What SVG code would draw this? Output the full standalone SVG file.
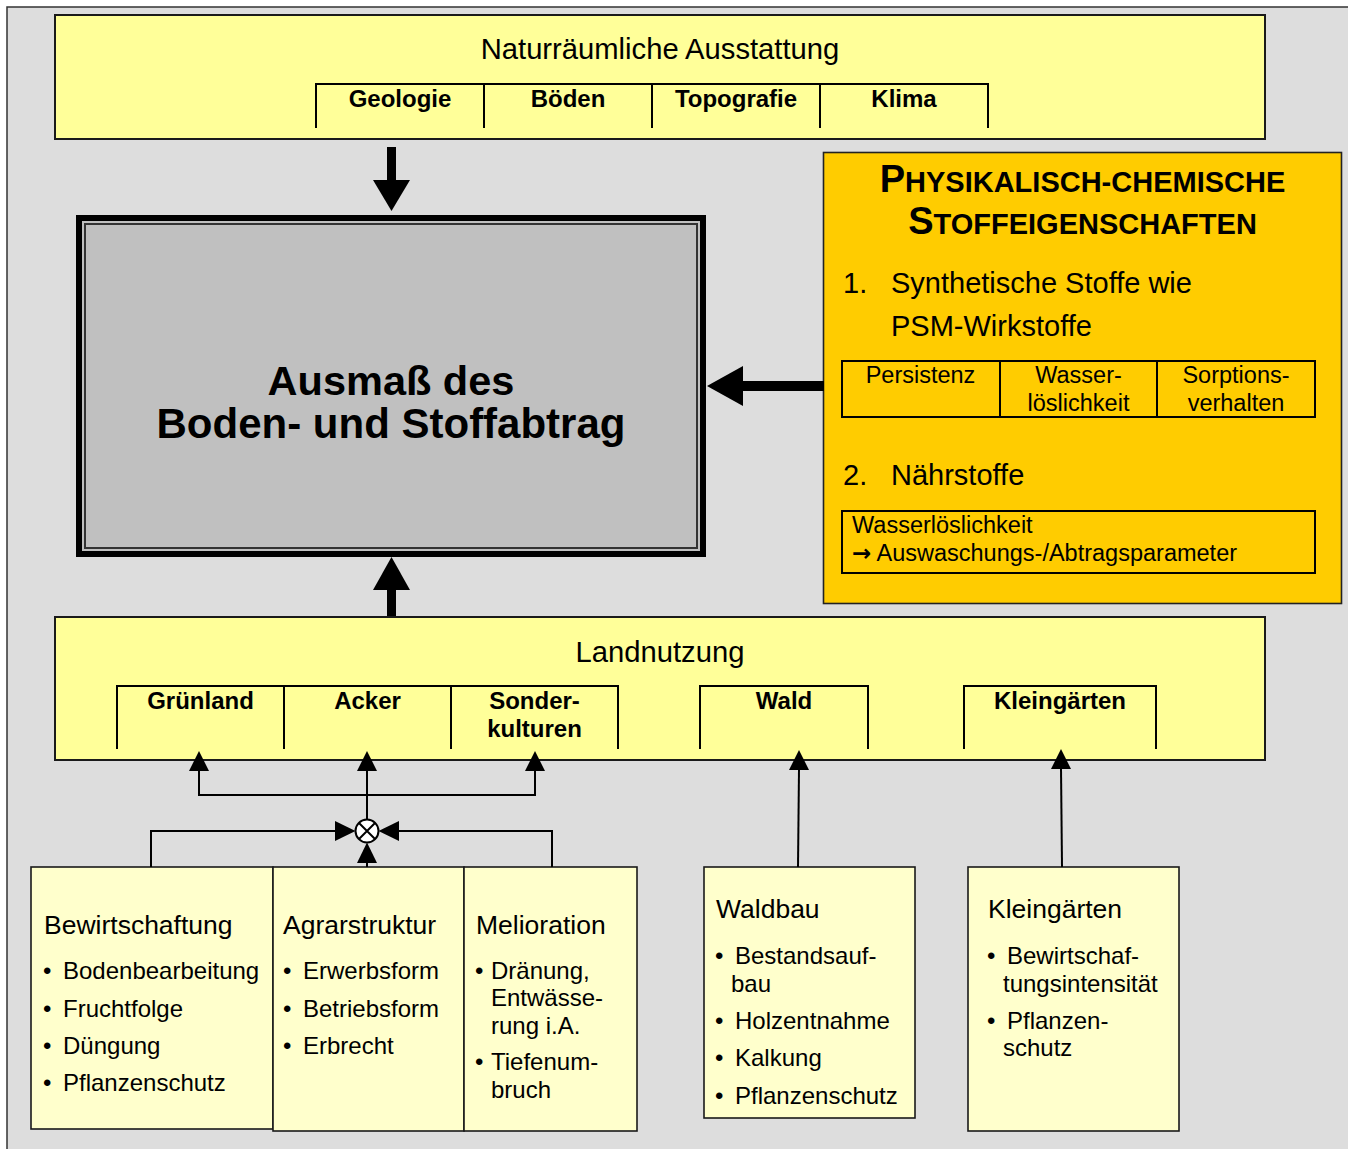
<svg xmlns="http://www.w3.org/2000/svg" width="1348" height="1149" viewBox="0 0 1348 1149">
<defs>
<style>
text{font-family:"Liberation Sans",Arial,sans-serif;fill:#000}
.hdr{font-size:29.2px}
.tab{font-size:24px;font-weight:bold;text-anchor:middle}
.ttl{font-size:26.5px}
.itm{font-size:24px}
.tbl{font-size:23.5px}
.big{font-size:29px}
.yl{fill:#ffff99;stroke:#1a1a1a;stroke-width:2}
.lt{fill:#ffffcc;stroke:#1a1a1a;stroke-width:1.6}
.tl{fill:none;stroke:#000;stroke-width:2}
.ln{fill:none;stroke:#000;stroke-width:2}
.ah{fill:#000}
</style>
</defs>
<rect x="7" y="7" width="1350" height="1150" fill="#dddddd" stroke="#333" stroke-width="1.5"/>

<g id="naturraum">
<rect class="yl" x="55" y="15" width="1210" height="124"/>
<text class="hdr" x="660" y="59" text-anchor="middle">Naturräumliche Ausstattung</text>
<path class="tl" d="M316,128 V84 H988 V128 M484,84 V128 M652,84 V128 M820,84 V128"/>
<text class="tab" x="400" y="107">Geologie</text>
<text class="tab" x="568" y="107">Böden</text>
<text class="tab" x="736" y="107">Topografie</text>
<text class="tab" x="904" y="107">Klima</text>
</g>

<g id="ausmass">
<rect x="79" y="218" width="624" height="336" fill="#c0c0c0" stroke="#000" stroke-width="6"/>
<rect x="85" y="224" width="612" height="324" fill="none" stroke="#333" stroke-width="2"/>
<text x="391" y="395" font-size="41.5" font-weight="bold" text-anchor="middle">Ausmaß des</text>
<text x="391" y="438" font-size="42" font-weight="bold" text-anchor="middle">Boden- und Stoffabtrag</text>
</g>

<g id="stoffeigenschaften">
<rect x="823.5" y="152.5" width="518" height="451" fill="#ffcc00" stroke="#222" stroke-width="1.6"/>
<text x="1082.5" y="192" font-weight="bold" text-anchor="middle"><tspan font-size="38">P</tspan><tspan font-size="29">HYSIKALISCH-CHEMISCHE</tspan></text>
<text x="1082.5" y="234" font-weight="bold" text-anchor="middle"><tspan font-size="38">S</tspan><tspan font-size="29">TOFFEIGENSCHAFTEN</tspan></text>
<text class="big" x="843" y="293">1.</text>
<text class="big" x="891" y="293">Synthetische Stoffe wie</text>
<text class="big" x="891" y="336">PSM-Wirkstoffe</text>
<path class="tl" d="M842,361 H1315 V417 H842 Z M1000,361 V417 M1157,361 V417"/>
<text class="tbl" x="920.5" y="383" text-anchor="middle">Persistenz</text>
<text class="tbl" x="1078.5" y="383" text-anchor="middle">Wasser-</text>
<text class="tbl" x="1078.5" y="411" text-anchor="middle">löslichkeit</text>
<text class="tbl" x="1236" y="383" text-anchor="middle">Sorptions-</text>
<text class="tbl" x="1236" y="411" text-anchor="middle">verhalten</text>
<text class="big" x="843" y="485">2.</text>
<text class="big" x="891" y="485">Nährstoffe</text>
<rect class="tl" x="842" y="511" width="473" height="62"/>
<text class="tbl" x="852" y="533">Wasserlöslichkeit</text>
<text class="tbl" x="852" y="561"><tspan font-family="'DejaVu Sans',sans-serif" font-size="23" font-weight="bold">→</tspan> Auswaschungs-/Abtragsparameter</text>
</g>

<g id="landnutzung">
<rect class="yl" x="55" y="617" width="1210" height="143"/>
<text class="hdr" x="660" y="662" text-anchor="middle">Landnutzung</text>
<path class="tl" d="M117,749 V686 H618 V749 M284,686 V749 M451,686 V749 M700,749 V686 H868 V749 M964,749 V686 H1156 V749"/>
<text class="tab" x="200.5" y="709">Grünland</text>
<text class="tab" x="367.5" y="709">Acker</text>
<text class="tab" x="534.5" y="709">Sonder-</text>
<text class="tab" x="534.5" y="737">kulturen</text>
<text class="tab" x="784" y="709">Wald</text>
<text class="tab" x="1060" y="709">Kleingärten</text>
</g>

<g id="bewirtschaftung">
<rect class="lt" x="31" y="867" width="242" height="262"/>
<text class="ttl" x="44" y="934">Bewirtschaftung</text>
<text class="itm" x="43" y="979">•</text><text class="itm" x="63" y="979">Bodenbearbeitung</text>
<text class="itm" x="43" y="1017">•</text><text class="itm" x="63" y="1017">Fruchtfolge</text>
<text class="itm" x="43" y="1054">•</text><text class="itm" x="63" y="1054">Düngung</text>
<text class="itm" x="43" y="1091">•</text><text class="itm" x="63" y="1091">Pflanzenschutz</text>
</g>

<g id="agrarstruktur">
<rect class="lt" x="273" y="867" width="191" height="264"/>
<text class="ttl" x="283" y="934">Agrarstruktur</text>
<text class="itm" x="283" y="979">•</text><text class="itm" x="303" y="979">Erwerbsform</text>
<text class="itm" x="283" y="1017">•</text><text class="itm" x="303" y="1017">Betriebsform</text>
<text class="itm" x="283" y="1054">•</text><text class="itm" x="303" y="1054">Erbrecht</text>
</g>

<g id="melioration">
<rect class="lt" x="464" y="867" width="173" height="264"/>
<text class="ttl" x="476" y="934">Melioration</text>
<text class="itm" x="475" y="979">•</text><text class="itm" x="491" y="979">Dränung,</text>
<text class="itm" x="491" y="1006">Entwässe-</text>
<text class="itm" x="491" y="1034">rung i.A.</text>
<text class="itm" x="475" y="1070">•</text><text class="itm" x="491" y="1070">Tiefenum-</text>
<text class="itm" x="491" y="1098">bruch</text>
</g>

<g id="waldbau">
<rect class="lt" x="704" y="867" width="211" height="251"/>
<text class="ttl" x="716" y="918">Waldbau</text>
<text class="itm" x="715" y="964">•</text><text class="itm" x="735" y="964">Bestandsauf-</text>
<text class="itm" x="731" y="992">bau</text>
<text class="itm" x="715" y="1029">•</text><text class="itm" x="735" y="1029">Holzentnahme</text>
<text class="itm" x="715" y="1066">•</text><text class="itm" x="735" y="1066">Kalkung</text>
<text class="itm" x="715" y="1104">•</text><text class="itm" x="735" y="1104">Pflanzenschutz</text>
</g>

<g id="kleingaerten">
<rect class="lt" x="968" y="867" width="211" height="264"/>
<text class="ttl" x="988" y="918">Kleingärten</text>
<text class="itm" x="987" y="964">•</text><text class="itm" x="1007" y="964">Bewirtschaf-</text>
<text class="itm" x="1003" y="992">tungsintensität</text>
<text class="itm" x="987" y="1029">•</text><text class="itm" x="1007" y="1029">Pflanzen-</text>
<text class="itm" x="1003" y="1056">schutz</text>
</g>

<g id="connectors">
<rect x="387" y="147" width="9" height="35" fill="#000"/>
<polygon class="ah" points="373,180 410,180 391.5,211"/>
<rect x="387" y="588" width="9" height="28" fill="#000"/>
<polygon class="ah" points="373,590 410,590 391.5,557"/>
<rect x="741" y="381" width="83" height="10" fill="#000"/>
<polygon class="ah" points="743,366 743,406 707,386"/>

<path class="ln" d="M199,770 V795 H535 V770 M367,770 V819.5"/>
<polygon class="ah" points="199,751 189,771 209,771"/>
<polygon class="ah" points="367,751 357,771 377,771"/>
<polygon class="ah" points="535,751 525,771 545,771"/>

<path class="ln" d="M151,867 V831 H336 M552,867 V831 H399 M367,867 V862"/>
<polygon class="ah" points="355.5,831 335,821 335,841"/>
<polygon class="ah" points="378.5,831 399,821 399,841"/>
<polygon class="ah" points="367,842.5 357,863 377,863"/>
<circle cx="367" cy="831" r="11.5" fill="#fff" stroke="#000" stroke-width="2"/>
<path d="M359,823 L375,839 M375,823 L359,839" stroke="#000" stroke-width="2"/>

<path class="ln" d="M798,867 L799,769"/>
<polygon class="ah" points="799,750 789,770 809,770"/>
<path class="ln" d="M1062,867 L1061,768"/>
<polygon class="ah" points="1061,749 1051,769 1071,769"/>
</g>
</svg>
